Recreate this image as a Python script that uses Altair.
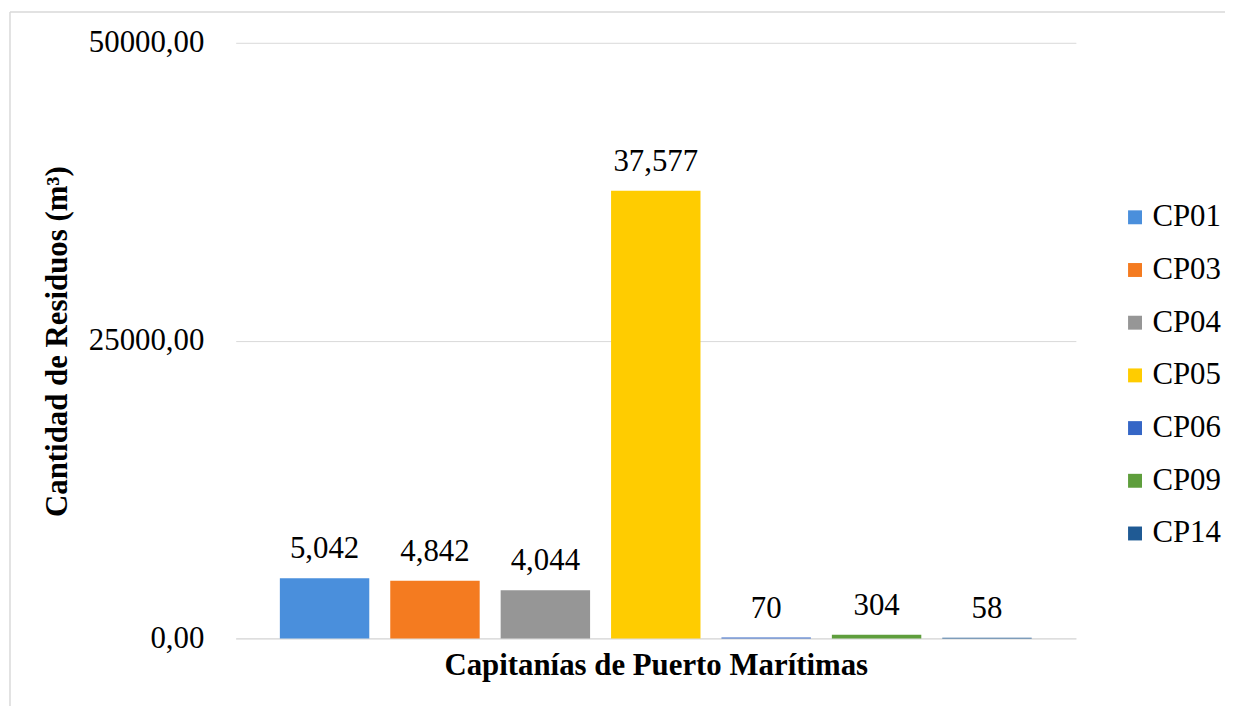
import altair as alt
import pandas as pd

categories = ["CP01", "CP03", "CP04", "CP05", "CP06", "CP09", "CP14"]
values = [5042, 4842, 4044, 37577, 70, 304, 58]
colors = ["#4A8FDC", "#F47B20", "#969696", "#FFCC00", "#3566C6", "#5E9E3C", "#1F5A94"]
y_ticks = [0, 25000, 50000]
x_title = "Capitanías de Puerto Marítimas"
y_title = "Cantidad de Residuos (m³)"

df = pd.DataFrame({"cp": categories, "val": values})
FONT = "Liberation Serif, Times New Roman, DejaVu Serif, serif"
GRID = "#d9d9d9"

x_enc = alt.X(
    "cp:N", sort=categories,
    scale=alt.Scale(paddingInner=0.19, paddingOuter=0.4),
    axis=alt.Axis(title=x_title, labels=False, ticks=False, domain=True,
                  domainColor=GRID, domainWidth=1, titleFont=FONT, titleFontSize=31,
                  titleFontWeight="bold", titleColor="black", titlePadding=12),
)
y_enc = alt.Y(
    "val:Q", scale=alt.Scale(domain=[0, 50000], nice=False),
    axis=alt.Axis(values=y_ticks, labelExpr="replace(format(datum.value, '.2f'), '.', ',')",
                  grid=True, gridColor=GRID, gridWidth=1, domain=False, ticks=False,
                  labelPadding=32, labelFont=FONT, labelFontSize=31, labelColor="black",
                  title=y_title, titleFont=FONT, titleFontSize=31, titleFontWeight="bold",
                  titleColor="black", titleAngle=270, titleX=-170, titleY=300,
                  titleBaseline="alphabetic"),
)

bars = alt.Chart(df).mark_bar().encode(
    x=x_enc, y=y_enc,
    color=alt.Color("cp:N", sort=categories,
                    scale=alt.Scale(domain=categories, range=colors),
                    legend=alt.Legend(orient="none", legendX=889, legendY=160, title=None,
                                      symbolType="square", symbolSize=196, symbolStrokeWidth=0,
                                      labelFont=FONT, labelFontSize=31, labelColor="black",
                                      rowPadding=21, labelOffset=2, padding=0)),
)

labels = alt.Chart(df).mark_text(dy=-29, baseline="middle", font=FONT, fontSize=31,
                                 color="black").encode(
    x=alt.X("cp:N", sort=categories), y=alt.Y("val:Q"),
    text=alt.Text("val:Q", format=","),
)

one = pd.DataFrame({"a": [0]})
border_left = alt.Chart(one).mark_rule(color=GRID, strokeWidth=1.5).encode(
    x=alt.value(-227), y=alt.value(-31), y2=alt.value(700))
border_top = alt.Chart(one).mark_rule(color=GRID, strokeWidth=1.5).encode(
    x=alt.value(-227), x2=alt.value(1000), y=alt.value(-31))

chart = alt.layer(border_left, border_top, bars, labels).properties(
    width=845, height=599,
    padding={"left": 229, "top": 33, "right": 150, "bottom": 66},
    autosize="none",
).configure_view(stroke=None)

chart.save("out.html", embed_options={"renderer": "svg", "actions": False})
